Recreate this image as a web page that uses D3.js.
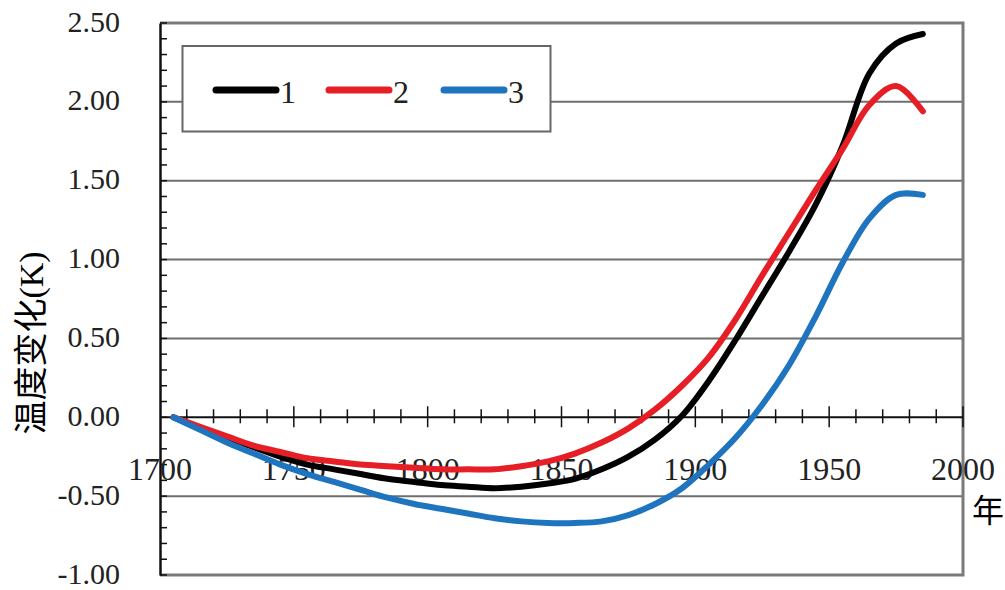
<!DOCTYPE html>
<html><head><meta charset="utf-8">
<script src="https://cdn.jsdelivr.net/npm/d3@7"></script>
<style>
html,body{margin:0;padding:0;background:#fff;}
svg{display:block;}
</style></head>
<body>
<svg id="chart" width="1005" height="590"></svg>
<script>
const years = [1705,1715,1725,1735,1745,1755,1765,1775,1785,1795,1805,1815,1825,1835,1845,1855,1865,1875,1885,1895,1905,1915,1925,1935,1945,1955,1965,1975,1985];
const series1 = [0,-0.07,-0.13,-0.19,-0.25,-0.30,-0.33,-0.36,-0.39,-0.41,-0.43,-0.44,-0.45,-0.44,-0.42,-0.39,-0.33,-0.25,-0.14,0.01,0.23,0.49,0.77,1.05,1.35,1.72,2.18,2.37,2.43];
const series2 = [0,-0.06,-0.12,-0.18,-0.22,-0.26,-0.28,-0.30,-0.31,-0.32,-0.33,-0.33,-0.33,-0.31,-0.28,-0.23,-0.16,-0.07,0.05,0.20,0.38,0.62,0.90,1.17,1.44,1.70,1.98,2.10,1.94];
const series3 = [0,-0.08,-0.16,-0.23,-0.30,-0.36,-0.41,-0.46,-0.51,-0.55,-0.58,-0.61,-0.64,-0.66,-0.67,-0.67,-0.66,-0.62,-0.55,-0.45,-0.30,-0.13,0.08,0.33,0.64,0.98,1.26,1.41,1.41];
const seriesNames = ["1","2","3"];
const seriesColors = ["#000000","#e61e25","#1f74bf"];
const yTickValues = [-1.0,-0.5,0.0,0.5,1.0,1.5,2.0,2.5];
const xTickValues = [1700,1750,1800,1850,1900,1950,2000];
const yTitle = "温度变化";
const yUnit = "(K)";
const xTitle = "年";

const svg = d3.select("#chart");
const x = d3.scaleLinear().domain([1700,2000]).range([160,963]);
const y = d3.scaleLinear().domain([-1,2.5]).range([575,23]);
const serif = "'Liberation Serif','Times New Roman',serif";
const textColor = "#222";
const fmt = d => d3.format(".2f")(d).replace("\u2212","-");

// gridlines
svg.append("g").selectAll("line").data(yTickValues.filter(v => v !== 0 && v > -1 && v < 2.5)).join("line")
  .attr("x1", x(1700)).attr("x2", x(2000))
  .attr("y1", d => y(d)).attr("y2", d => y(d))
  .attr("stroke", "#6e6e6e").attr("stroke-width", 2);

// frame: top, right, bottom
svg.append("path")
  .attr("d", `M${x(1700)},${y(2.5)}H${x(2000)}V${y(-1)}H${x(1700)}`)
  .attr("fill","none").attr("stroke","#7a7a7a").attr("stroke-width",3);

// left axis
const yAxis = d3.axisLeft(y).tickValues(yTickValues).tickSize(0).tickFormat(fmt);
const gy = svg.append("g").attr("transform", `translate(${x(1700)},0)`).call(yAxis);
gy.select(".domain").attr("stroke","#111").attr("stroke-width",2.5);
gy.selectAll("text").attr("font-family", serif).attr("font-size", 30).attr("fill", textColor)
  .attr("x", 120 - x(1700)).attr("dy", null).attr("y", 8);
// minor y ticks (inside)
const yMinor = d3.range(-10, 26).map(i => i/10);
svg.append("g").selectAll("line").data(yMinor).join("line")
  .attr("x1", x(1700)).attr("x2", x(1700)+7)
  .attr("y1", d => y(d)).attr("y2", d => y(d))
  .attr("stroke", "#111").attr("stroke-width", 1.5);

// x axis at y=0
const gx = svg.append("g");
gx.append("line").attr("x1", x(1700)).attr("x2", x(2000)).attr("y1", y(0)).attr("y2", y(0))
  .attr("stroke","#111").attr("stroke-width",2);
const xMinor = d3.range(1700, 2001, 10);
gx.selectAll("line.t").data(xMinor.filter(v => v > 1700)).join("line").attr("class","t")
  .attr("x1", d => x(d)).attr("x2", d => x(d))
  .attr("y1", d => y(0) - (d % 50 === 0 ? 11 : 8))
  .attr("y2", d => y(0) + (d % 50 === 0 ? 10 : 6))
  .attr("stroke","#111").attr("stroke-width",1.5);
gx.selectAll("text").data(xTickValues).join("text")
  .attr("x", d => x(d)).attr("y", 480)
  .attr("text-anchor","middle").attr("font-family", serif).attr("font-size", 32).attr("fill", textColor)
  .text(d => d);

// lines
const allSeries = [series1, series2, series3];
const line = d3.line().x((d,i) => x(years[i])).y(d => y(d)).curve(d3.curveCatmullRom.alpha(0.5));
svg.append("g").selectAll("path").data(allSeries).join("path")
  .attr("d", d => line(d))
  .attr("fill","none")
  .attr("stroke", (d,i) => seriesColors[i])
  .attr("stroke-width", 6)
  .attr("stroke-linecap","round").attr("stroke-linejoin","round");

// legend
const lg = svg.append("g");
lg.append("rect").attr("x",182.5).attr("y",46).attr("width",368).attr("height",85.5)
  .attr("fill","#fff").attr("stroke","#666").attr("stroke-width",2);
const legendX = [216, 329, 444];
seriesNames.forEach((n,i) => {
  lg.append("line").attr("x1", legendX[i]).attr("x2", legendX[i]+60)
    .attr("y1", 90).attr("y2", 90)
    .attr("stroke", seriesColors[i]).attr("stroke-width", 7).attr("stroke-linecap","round");
  lg.append("text").attr("x", legendX[i]+64).attr("y", 103)
    .attr("font-family", serif).attr("font-size", 32).attr("fill", textColor).text(n);
});

// axis titles
const yt = svg.append("text")
  .attr("transform", "translate(43,343) rotate(-90)")
  .attr("text-anchor","middle").attr("fill","#000").attr("font-size", 34)
  .attr("font-family", "'Noto Sans CJK SC','Noto Sans',sans-serif");
yt.append("tspan").text(yTitle);
yt.append("tspan").attr("font-family", serif).text(yUnit);

svg.append("text").attr("x", 988).attr("y", 522).attr("text-anchor","middle")
  .attr("font-size", 32).attr("fill","#000")
  .attr("font-family", "'Noto Sans CJK SC','Noto Sans',sans-serif").text(xTitle);
</script>
</body></html>
